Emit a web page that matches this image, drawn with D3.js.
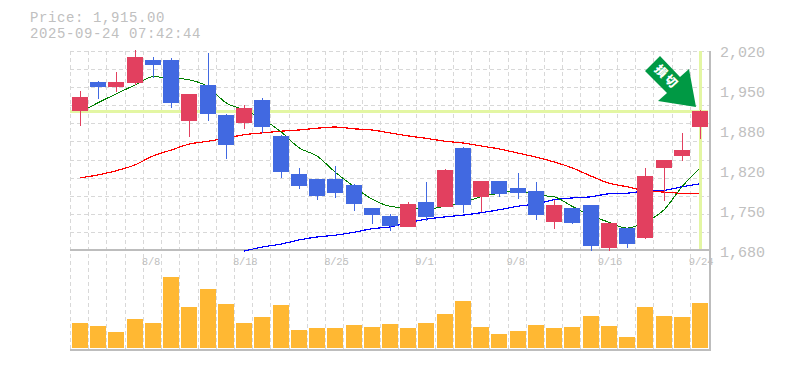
<!DOCTYPE html>
<html>
<head>
<meta charset="utf-8">
<script src="https://cdn.jsdelivr.net/npm/d3@7/dist/d3.min.js"></script>
<style>
	html, body { margin: 0; padding: 0; background: #fff; }
	svg { display: block; }
	text { font-family: "Liberation Mono", monospace; fill: #c0c0c0; }
</style>
</head>
<body>
<div id="chart"></div>
<script>
const dates = ["8/4","8/5","8/6","8/7","8/8","8/12","8/13","8/14","8/15","8/18","8/19","8/20","8/21","8/22","8/25","8/26","8/27","8/28","8/29","9/1","9/2","9/3","9/4","9/5","9/8","9/9","9/10","9/11","9/12","9/16","9/17","9/18","9/19","9/22","9/24"];
const opens = [1939,1956,1964,2006,1993,1929,1944,1910,1858,1920,1888,1812,1788,1771,1776,1758,1739,1721,1758,1736,1815,1756,1797,1775,1776,1739,1756,1726,1687,1726,1690,1805,1832,1849,1915];
const highs = [1949,1966,1981,2018,2006,2005,1944,2013,1910,1925,1937,1875,1819,1800,1822,1792,1751,1741,1761,1795,1817,1854,1797,1797,1810,1795,1765,1751,1756,1726,1717,1819,1832,1878,1917];
const lows = [1890,1935,1947,1959,1971,1920,1871,1898,1834,1885,1878,1802,1783,1765,1768,1746,1724,1712,1719,1729,1753,1743,1744,1770,1766,1731,1716,1724,1678,1678,1683,1699,1763,1831,1868];
const closes = [1915,1964,1956,1962,2001,2001,1898,1959,1908,1895,1934,1873,1809,1800,1800,1790,1751,1738,1719,1761,1753,1853,1770,1797,1785,1780,1727,1751,1756,1683,1717,1700,1819,1839,1888];
const volumes = [250,220,160,290,250,710,410,590,440,250,310,430,180,200,200,230,210,240,200,250,340,470,210,140,170,230,200,210,320,220,110,410,320,310,450];
const maShort = [1913,1929,1944,1959,1973,1971,1968,1956,1929,1917,1902,1880,1853,1839,1812,1787,1766,1754,1751,1749,1754,1760,1770,1776,1781,1773,1770,1754,1738,1727,1717,1727,1748,1787,1819];
const maMid = [1802,1807,1814,1824,1839,1849,1859,1864,1869,1875,1878,1881,1883,1886,1888,1885,1883,1878,1873,1869,1864,1861,1856,1851,1844,1837,1829,1819,1805,1793,1787,1780,1778,1776,1776];
const maLong = [null,null,null,null,null,null,null,null,null,1678,1685,1690,1697,1702,1705,1710,1716,1719,1726,1732,1736,1739,1743,1748,1754,1758,1765,1768,1770,1775,1776,1780,1781,1787,1792];
const priceTicks = [1680,1750,1820,1880,1950,2020];
const dateTicks = ["8/8","8/18","8/25","9/1","9/8","9/16","9/24"];
const currentPrice = 1915;
const priceTitle = "Price: 1,915.00";
const timeTitle = "2025-09-24 07:42:44";

const width = 785, height = 370;
const left = 70, right = 710, priceBottom = 250, volBottom = 350;

const svg = d3.select("#chart").append("svg")
	.attr("width", width)
	.attr("height", height);

const x = d3.scaleBand().domain(dates).range([70.9, 709.1]);
const cx = d => Math.round(x(d) + x.bandwidth() / 2);
const y = d3.scaleLinear().domain([1680, 2020]).range([250, 49]);
const yVol = d3.scaleLinear().domain([0, 710]).range([348, 277]);
const gridRows = d3.scaleLinear().domain([0, 11]).range([250, 51]);
const labelY = d3.scalePoint().domain(priceTicks).range([257, 57]);

// grid
const grid = svg.append("g")
	.attr("stroke", "#d8d8d8")
	.attr("stroke-width", 1)
	.attr("stroke-dasharray", "4,3")
	.attr("shape-rendering", "crispEdges");

grid.selectAll("line.v")
	.data(dates)
	.enter().append("line")
	.attr("class", "v")
	.attr("x1", d => Math.round(x(d)) - 0.5)
	.attr("x2", d => Math.round(x(d)) - 0.5)
	.attr("y1", 51)
	.attr("y2", volBottom);

grid.selectAll("line.h")
	.data(d3.range(1, 12))
	.enter().append("line")
	.attr("class", "h")
	.attr("x1", left)
	.attr("x2", right)
	.attr("y1", d => Math.round(gridRows(d)) + 0.5)
	.attr("y2", d => Math.round(gridRows(d)) + 0.5);

// frame
const frame = svg.append("g")
	.attr("stroke", "#bdbdbd")
	.attr("stroke-width", 2)
	.attr("shape-rendering", "crispEdges");
frame.append("line").attr("x1", left).attr("x2", right + 1).attr("y1", priceBottom).attr("y2", priceBottom).attr("stroke-width", 1.5);
frame.append("line").attr("x1", left).attr("x2", right + 1).attr("y1", volBottom).attr("y2", volBottom);
frame.append("line").attr("x1", right).attr("x2", right).attr("y1", 51).attr("y2", volBottom);

// moving averages
const line = d3.line()
	.defined(d => d[1] !== null)
	.x(d => cx(d[0]))
	.y(d => y(d[1]))
	.curve(d3.curveMonotoneX);

const maSeries = [
	{values: maMid, color: "#ff0000"},
	{values: maLong, color: "#0000ff"},
	{values: maShort, color: "#008000"}
];
svg.selectAll("path.ma")
	.data(maSeries)
	.enter().append("path")
	.attr("class", "ma")
	.attr("fill", "none")
	.attr("stroke", d => d.color)
	.attr("stroke-width", d => d.color === "#008000" ? 1 : 1.2)
	.attr("shape-rendering", "crispEdges")
	.attr("d", d => line(d.values.map((v, i) => [dates[i], v])));

// current price cross
const lastDate = dates[dates.length - 1];
svg.append("line")
	.attr("x1", left)
	.attr("x2", right - 2)
	.attr("y1", y(currentPrice))
	.attr("y2", y(currentPrice))
	.attr("stroke", "#e3f6a3")
	.attr("stroke-width", 3)
	.attr("shape-rendering", "crispEdges");
svg.append("line")
	.attr("x1", cx(lastDate))
	.attr("x2", cx(lastDate))
	.attr("y1", 51)
	.attr("y2", 249)
	.attr("stroke", "#e3f6a3")
	.attr("stroke-width", 3)
	.attr("shape-rendering", "crispEdges");

// candles
const up = "#4169e1", down = "#e2405f";
const candles = svg.append("g").attr("shape-rendering", "crispEdges");
const idx = d3.range(dates.length);

candles.selectAll("line")
	.data(idx)
	.enter().append("line")
	.attr("x1", i => cx(dates[i]) + 0.5)
	.attr("x2", i => cx(dates[i]) + 0.5)
	.attr("y1", i => y(highs[i]))
	.attr("y2", i => y(lows[i]))
	.attr("stroke", i => closes[i] >= opens[i] ? up : down)
	.attr("stroke-width", 1);

candles.selectAll("rect")
	.data(idx)
	.enter().append("rect")
	.attr("x", i => cx(dates[i]) - 8)
	.attr("width", 16)
	.attr("y", i => y(Math.max(opens[i], closes[i])))
	.attr("height", i => Math.abs(y(opens[i]) - y(closes[i])))
	.attr("fill", i => closes[i] >= opens[i] ? up : down);

// volume
svg.append("g")
	.attr("shape-rendering", "crispEdges")
	.selectAll("rect")
	.data(idx)
	.enter().append("rect")
	.attr("x", i => cx(dates[i]) - 8)
	.attr("width", 16)
	.attr("y", i => yVol(volumes[i]))
	.attr("height", i => yVol(0) - yVol(volumes[i]))
	.attr("fill", "#ffb833");

// sell badge, anchored on the last candle
const tipX = cx(lastDate) - 4, tipY = y(currentPrice) - 4;
const badge = svg.append("g").attr("transform", `translate(${tipX},${tipY})`);
badge.append("path")
	.attr("d", "M-36,-51L-51,-36L-29,-14L-38,-6L0,0L-7,-38L-16,-30Z")
	.attr("fill", "#009944");
badge.append("text")
	.attr("transform", "translate(-30,-29.5) rotate(45)")
	.attr("text-anchor", "middle")
	.attr("dominant-baseline", "middle")
	.style("font-family", "'Noto Sans CJK JP'")
	.style("font-weight", "900")
	.style("font-size", "12px")
	.style("letter-spacing", "2px")
	.style("fill", "#fff")
	.text("損切");

// labels
svg.selectAll("text.price")
	.data(priceTicks)
	.enter().append("text")
	.attr("class", "price")
	.attr("x", 720)
	.attr("y", d => labelY(d))
	.style("font-size", "15px")
	.text(d3.format(","));

svg.selectAll("text.date")
	.data(dateTicks)
	.enter().append("text")
	.attr("class", "date")
	.attr("x", d => x(d) - 2)
	.attr("y", 265)
	.style("font-size", "10.5px")
	.style("letter-spacing", "-0.2px")
	.text(d => d);

svg.append("text").attr("x", 30).attr("y", 22).style("font-size", "14px").style("letter-spacing", "0.6px").text(priceTitle);
svg.append("text").attr("x", 30).attr("y", 38).style("font-size", "14px").style("letter-spacing", "0.6px").text(timeTitle);
</script>
</body>
</html>
